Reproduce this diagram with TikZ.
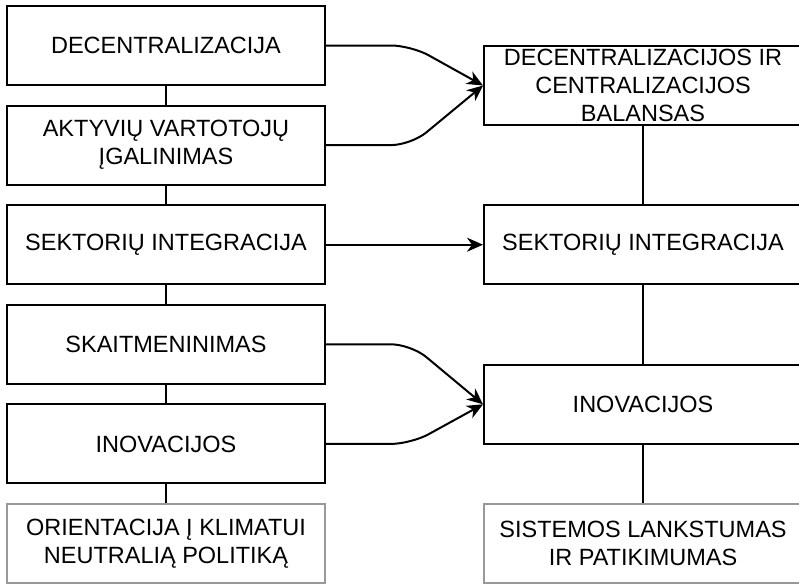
\documentclass[tikz,border=0pt]{standalone}
\usepackage{fontspec}
\setmainfont{Liberation Sans}
\usetikzlibrary{arrows.meta, positioning}
\tikzstyle{block} = [
	rectangle,
	minimum width=318pt,
	minimum height=79pt,
	inner sep=0pt,
	align=center,
	draw=black,
	line width=2pt,
	font=\fontsize{23.5}{28}\selectfont
]
\tikzstyle{goal} = [
	block,
	draw=black!40
]
\tikzstyle{link} = [line width=2pt]
\tikzstyle{arrow} = [line width=2pt, -{Stealth[length=16pt, width=14pt, inset=5pt]}, rounded corners=20pt]

\begin{document}
\begin{tikzpicture}[x=1pt, y=-1pt, node distance=99.6pt]
	\clip (0,0) rectangle (799,584);
	\node (dec) [block] at (166,45.5) {DECENTRALIZACIJA};
	\node (akt) [block, below of=dec] {AKTYVIŲ VARTOTOJŲ\\ĮGALINIMAS};
	\node (sekt) [block, below of=akt] {SEKTORIŲ INTEGRACIJA};
	\node (skait) [block, below of=sekt] {SKAITMENINIMAS};
	\node (inov) [block, below of=skait] {INOVACIJOS};
	\node (orient) [goal, below of=inov] {ORIENTACIJA Į KLIMATUI\\NEUTRALIĄ POLITIKĄ};
	\node (bal) [block, right of=dec, xshift=377.4pt, yshift=-40pt] {DECENTRALIZACIJOS IR\\CENTRALIZACIJOS\\BALANSAS};
	\node (sekt2) [block, right of=sekt, xshift=377.4pt] {SEKTORIŲ INTEGRACIJA};
	\node (inov2) [block, right of=skait, xshift=377.4pt, yshift=-60pt] {INOVACIJOS};
	\node (flex) [goal, right of=orient, xshift=377.4pt] {SISTEMOS LANKSTUMAS\\IR PATIKIMUMAS};
	
	\draw [link] (dec) -- (akt);
	\draw [link] (akt) -- (sekt);
	\draw [link] (sekt) -- (skait);
	\draw [link] (skait) -- (inov);
	\draw [link] (inov) -- (orient);
	\draw [link] (bal) -- (sekt2);
	\draw [link] (sekt2) -- (inov2);
	\draw [link] (inov2) -- (flex);
	
	\draw [arrow] (dec.east) -- ++(85,0) -- (bal.west);
	\draw [arrow] (akt.east) -- ++(85,0) -- (bal.west);
	\draw [arrow] (sekt.east) -- (sekt2.west);
	\draw [arrow] (skait.east) -- ++(85,0) -- (inov2.west);
	\draw [arrow] (inov.east) -- ++(85,0) -- (inov2.west);
\end{tikzpicture}
\end{document}
